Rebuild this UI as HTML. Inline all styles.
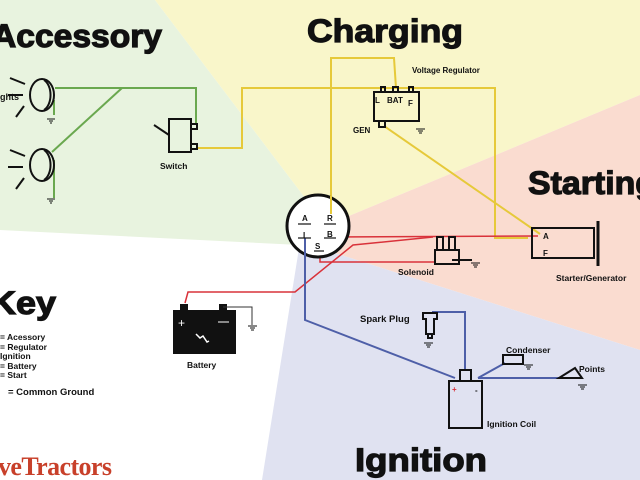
<!DOCTYPE html>
<html><head><meta charset="utf-8"><style>
html,body{margin:0;padding:0;background:#fff}
svg{display:block}
text{font-family:"Liberation Sans",sans-serif;font-weight:bold;fill:#111}
.t{stroke:#111;stroke-width:1.2}
</style></head><body>
<svg width="640" height="480" viewBox="0 0 640 480" xmlns="http://www.w3.org/2000/svg">
<rect width="640" height="480" fill="#fff"/>
<polygon points="0,0 155,0 318,215 300,245 0,230" fill="#e8f3df"/>
<polygon points="155,0 640,0 640,95 320,228 318,215" fill="#f9f6ca"/>
<polygon points="320,228 640,95 640,350 300,242" fill="#fadcd0"/>
<polygon points="300,242 640,350 640,480 262,480" fill="#e0e2f1"/>
<text class="t" x="-8" y="47" font-size="32" textLength="170" lengthAdjust="spacingAndGlyphs">Accessory</text>
<text class="t" x="307" y="42" font-size="32" textLength="156" lengthAdjust="spacingAndGlyphs">Charging</text>
<text class="t" x="528" y="194" font-size="32" textLength="128" lengthAdjust="spacingAndGlyphs">Starting</text>
<text class="t" x="-10" y="314" font-size="32" textLength="66" lengthAdjust="spacingAndGlyphs">Key</text>
<text class="t" x="355" y="471" font-size="32" textLength="132" lengthAdjust="spacingAndGlyphs">Ignition</text>
<text x="-2" y="475" font-size="26" style="font-family:'Liberation Serif',serif;fill:#c8402a" textLength="114">veTractors</text>
<g font-size="8.5">
<text x="0" y="100" font-size="9">ghts</text>
<text x="0" y="340">= Acessory</text>
<text x="0" y="350">= Regulator</text>
<text x="0" y="359">Ignition</text>
<text x="0" y="369">= Battery</text>
<text x="0" y="378">= Start</text>
<text x="8" y="395" font-size="9.5">= Common Ground</text>
<text x="160" y="169">Switch</text>
<text x="412" y="73" font-size="8">Voltage Regulator</text>
<text x="353" y="133" font-size="8">GEN</text>
<text x="398" y="275">Solenoid</text>
<text x="556" y="281">Starter/Generator</text>
<text x="187" y="368">Battery</text>
<text x="360" y="322" font-size="9.5">Spark Plug</text>
<text x="506" y="353">Condenser</text>
<text x="579" y="372">Points</text>
<text x="487" y="427">Ignition Coil</text>
</g>
<g stroke="#6aa84f" stroke-width="2" fill="none">
<polyline points="55,88 196,88 196,125"/>
<line x1="122" y1="88" x2="52" y2="152"/>
<line x1="54" y1="100" x2="54" y2="115"/>
<line x1="54" y1="160" x2="54" y2="198"/>
</g>
<g stroke="#e6c93a" stroke-width="2" fill="none">
<polyline points="198,148 242,148 242,88 495,88 495,238 528,238"/>
<polyline points="331,205 331,58 394,58 396,88"/>
<line x1="384" y1="126" x2="540" y2="234"/>
</g>
<g stroke="#d9323a" stroke-width="1.5" fill="none">
<polyline points="185,303 188,292 295,292 353,245 433,237"/>
<line x1="329" y1="237" x2="538" y2="236"/>
<polyline points="320,253 320,262 436,262"/>
</g>
<g stroke="#4e5fa8" stroke-width="2" fill="none">
<polyline points="305,235 305,320 455,378"/>
<polyline points="432,312 465,312 465,370"/>
<polyline points="478,378 505,363"/>
<line x1="478" y1="378" x2="560" y2="378"/>
</g>
<g stroke="#111" stroke-width="2" fill="none">
<ellipse cx="42" cy="95" rx="12" ry="16"/><path d="M44,80 a10,16 0 0 1 0,30"/>
<ellipse cx="42" cy="165" rx="12" ry="16"/><path d="M44,150 a10,16 0 0 1 0,30"/>
<line x1="10" y1="78" x2="25" y2="84"/><line x1="8" y1="95" x2="23" y2="95"/><line x1="16" y1="117" x2="24" y2="106"/>
<line x1="10" y1="150" x2="25" y2="156"/><line x1="8" y1="167" x2="23" y2="167"/><line x1="16" y1="189" x2="24" y2="178"/>
<rect x="169" y="119" width="22" height="33"/>
<rect x="191" y="124" width="6" height="5"/><rect x="191" y="144" width="6" height="5"/>
<line x1="154" y1="125" x2="169" y2="135"/>
<rect x="374" y="92" width="45" height="29"/>
<rect x="381" y="87" width="4" height="5"/><rect x="393" y="87" width="5" height="5"/><rect x="409" y="87" width="4" height="5"/>
<rect x="379" y="121" width="6" height="6"/>
<circle cx="318" cy="226" r="31" stroke-width="3" fill="#fff"/>
<rect x="435" y="250" width="24" height="14"/>
<rect x="437" y="237" width="6" height="13"/><rect x="449" y="237" width="6" height="13"/>
<line x1="452" y1="260" x2="472" y2="260"/>
<rect x="532" y="228" width="62" height="30"/>
<line x1="598" y1="221" x2="598" y2="266" stroke-width="3"/>
<path d="M423,313 h14 v6 h-3 v15 h-8 v-15 h-3 z"/><rect x="428" y="334" width="4" height="4"/>
<rect x="449" y="381" width="33" height="47"/><rect x="460" y="370" width="11" height="11"/>
<rect x="503" y="355" width="20" height="9"/>
</g>
<g stroke="#4e5fa8" stroke-width="2"><line x1="305" y1="238" x2="305" y2="258"/></g>
<g stroke="#e6c93a" stroke-width="2"><line x1="331" y1="196" x2="331" y2="214"/></g>
<g font-size="8">
<text x="375" y="103">L</text><text x="387" y="103">BAT</text><text x="408" y="106">F</text>
<text x="302" y="221">A</text><text x="327" y="221">R</text>
<text x="303" y="238">I</text><text x="327" y="237">B</text><text x="315" y="249">S</text>
<text x="543" y="239">A</text><text x="543" y="256">F</text>
<text x="452" y="392" style="fill:#d9323a">+</text><text x="475" y="393">-</text>
</g>
<g stroke="#111" stroke-width="1.2">
<line x1="298" y1="224" x2="311" y2="224"/><line x1="324" y1="224" x2="336" y2="224"/>
<line x1="298" y1="238" x2="311" y2="238"/><line x1="324" y1="238" x2="336" y2="238"/><line x1="314" y1="251" x2="324" y2="251"/>
</g>
<path d="M559,378 L575,368 L582,378 Z" fill="none" stroke="#111" stroke-width="2"/>
<rect x="173" y="310" width="63" height="44" fill="#111"/>
<rect x="180" y="304" width="8" height="7" fill="#111"/><rect x="219" y="304" width="8" height="7" fill="#111"/>
<polyline points="223,307 252,307 252,325" stroke="#333" fill="none"/>
<text x="178" y="327" font-size="12" style="fill:#fff;font-weight:normal">+</text>
<line x1="218" y1="322" x2="229" y2="322" stroke="#fff"/>
<polyline points="196,334 200,338 203,336 207,342 209,341" stroke="#fff" fill="none" stroke-width="1.5"/>
<g stroke="#111" stroke-width="1">
<path d="M47,119h8M49,121h4M50,123h2"/>
<path d="M47,199h8M49,201h4M50,203h2"/>
<path d="M416,129h9M418,131h5M419,133h3"/>
<path d="M471,263h9M473,265h5M474,267h3"/>
<path d="M248,326h9M250,328h5M251,330h3"/>
<path d="M424,343h9M426,345h5M427,347h3"/>
<path d="M524,365h9M526,367h5M527,369h3"/>
<path d="M578,385h9M580,387h5M581,389h3"/>
</g>
</svg>
</body></html>
